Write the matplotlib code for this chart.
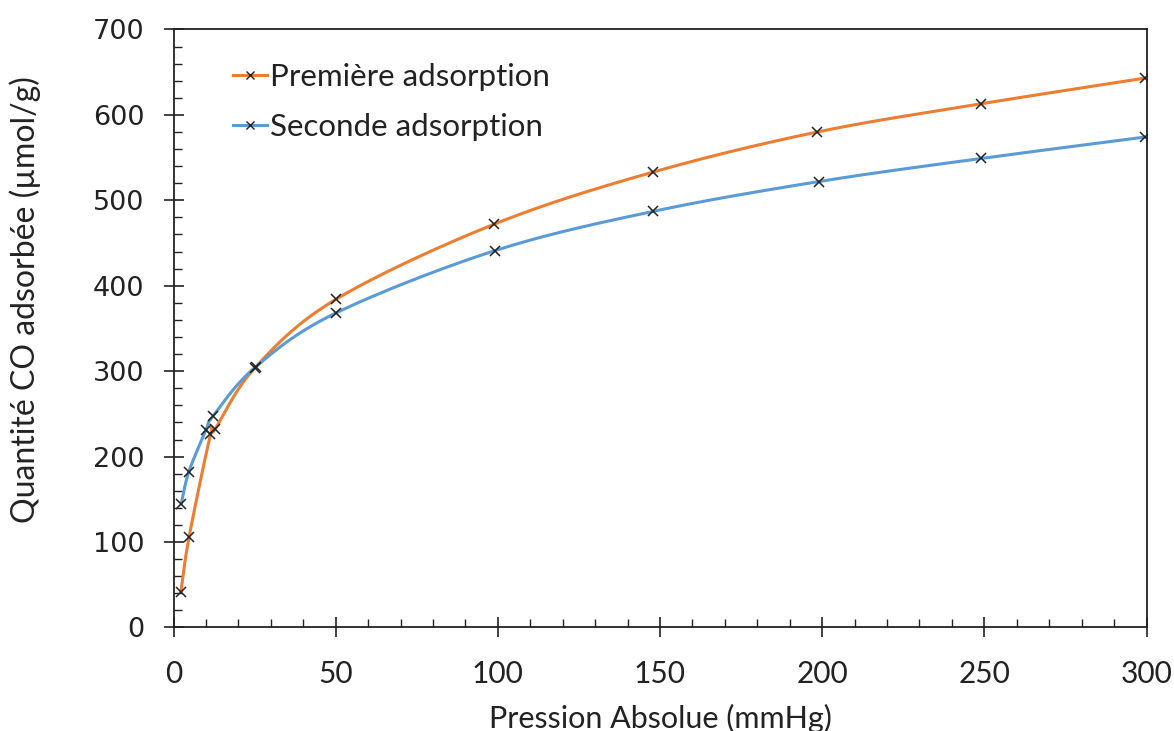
import matplotlib
matplotlib.use("Agg")

import matplotlib.pyplot as plt
import matplotlib.ticker as ticker
import numpy as np

# ── data ─────────────────────────────────────────────────────────
p_first = [2.3, 4.8, 11.4, 12.8, 25.1, 50.0, 98.8, 147.8, 198.5, 249.0, 299.4]
q_first = [42, 106, 226, 232, 304, 384, 472, 533, 580, 613, 643]

p_second = [2.4, 4.7, 10.0, 12.3, 25.3, 50.0, 99.0, 147.8, 199.0, 249.0, 299.4]
q_second = [145, 182, 231, 248, 305, 368, 441, 487, 522, 549, 574]

label_first = "Première adsorption"
label_second = "Seconde adsorption"


def smooth(x, y, n=30):
    """Excel-like smoothed line (Catmull-Rom through the points)."""
    pts = np.column_stack([x, y]).astype(float)
    pts = np.vstack([pts[0], pts, pts[-1]])
    out = []
    t = np.linspace(0, 1, n)[:, None]
    for i in range(1, len(pts) - 2):
        p0, p1, p2, p3 = pts[i - 1], pts[i], pts[i + 1], pts[i + 2]
        c1 = p1 + (p2 - p0) / 6
        c2 = p2 - (p3 - p1) / 6
        seg = ((1 - t) ** 3) * p1 + 3 * ((1 - t) ** 2) * t * c1 \
            + 3 * (1 - t) * t ** 2 * c2 + t ** 3 * p2
        out.append(seg if i == 1 else seg[1:])
    out = np.vstack(out)
    return out[:, 0], out[:, 1]


fig = plt.figure(figsize=(11.74, 7.31), dpi=100)
ax = fig.add_axes([0.1478, 0.1416, 0.9766 - 0.1478, 0.9597 - 0.1416])

orange = "#ED7D31"
blue = "#5B9BD5"

for px, qy, col, lab in [(p_first, q_first, orange, label_first),
                         (p_second, q_second, blue, label_second)]:
    sx, sy = smooth(px, qy)
    ax.plot(sx, sy, color=col, lw=2.2, zorder=2)
    ax.plot(px, qy, ls="none", marker="x", ms=7.5, mew=1.1, color="#222222", zorder=3)
    ax.plot([], [], color=col, lw=2.2, marker="x", ms=6, mew=1.0,
            mec="#222222", label=lab)

ax.set_xlim(0, 300)
ax.set_ylim(0, 700)
ax.xaxis.set_major_locator(ticker.MultipleLocator(50))
ax.xaxis.set_minor_locator(ticker.MultipleLocator(10))
ax.yaxis.set_major_locator(ticker.MultipleLocator(100))
ax.yaxis.set_minor_locator(ticker.MultipleLocator(20))

ax.tick_params(axis="x", which="major", direction="inout", length=14, width=1.2,
               labelsize=21.5, pad=16.5, colors="#222222")
ax.tick_params(axis="x", which="minor", direction="in", length=5.5, width=1.0,
               colors="#222222")
ax.tick_params(axis="y", which="major", direction="inout", length=14, width=1.2,
               labelsize=19.5, pad=14, colors="#222222")
ax.tick_params(axis="y", which="minor", direction="in", length=6, width=1.0,
               colors="#222222")

for lab in ax.get_xticklabels():
    lab.set_fontfamily("Lato")
for lab in ax.get_yticklabels():
    lab.set_fontfamily("DejaVu Sans")

for s in ax.spines.values():
    s.set_linewidth(1.3)
    s.set_color("#222222")

ax.set_xlabel("Pression Absolue (mmHg)", fontsize=22, family="Lato", color="#222222")
ax.set_ylabel("Quantité CO adsorbée (µmol/g)", fontsize=23, family="Lato",
              color="#222222")
ax.xaxis.set_label_coords(0.5, -0.127)
ax.yaxis.set_label_coords(-0.136, 0.548)

leg = ax.legend(loc="upper left", bbox_to_anchor=(0.061, 0.944), frameon=False,
                prop={"family": "Lato", "size": 22.5}, handlelength=1.1,
                handletextpad=0.1, labelspacing=0.71, borderpad=0,
                borderaxespad=0)
for t in leg.get_texts():
    t.set_color("#222222")

fig.savefig("out.png", dpi=100)
